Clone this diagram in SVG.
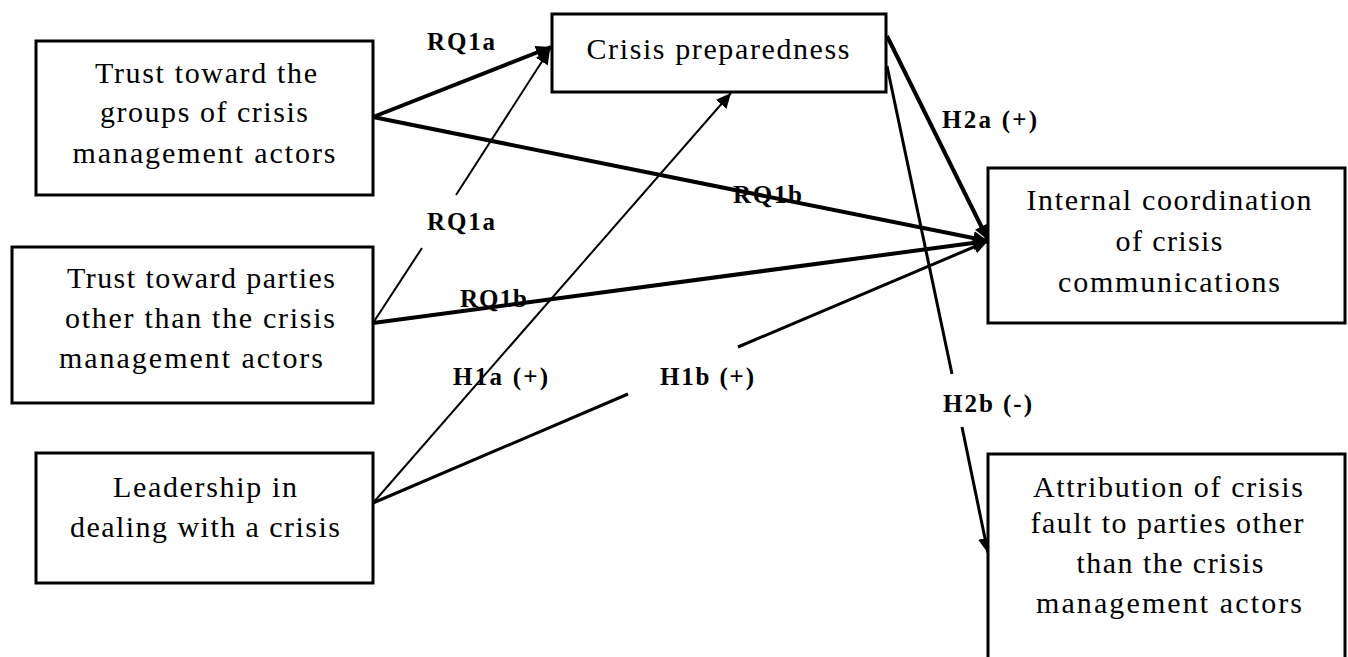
<svg xmlns="http://www.w3.org/2000/svg" width="1348" height="657" viewBox="0 0 1348 657">
<style>
.box{fill:#fff;stroke:#000;stroke-width:3}
.t{font-family:"Liberation Serif","Times New Roman",serif;font-size:30px;fill:#000;text-anchor:middle}
.l{font-family:"Liberation Serif","Times New Roman",serif;font-size:25px;font-weight:bold;fill:#000}
.c{fill:none;stroke:#000;stroke-linecap:butt}
.w4{stroke-width:4}.w3{stroke-width:3}.w2{stroke-width:2}
</style>
<defs>
<marker id="ah" markerUnits="userSpaceOnUse" markerWidth="16" markerHeight="14" refX="15" refY="7" orient="auto">
<path d="M0,0 L15,7 L0,14 Z" fill="#000"/>
</marker>
</defs>
<rect width="1348" height="657" fill="#fff"/>
<g id="connectors">
<line class="c w4" x1="373" y1="117" x2="551" y2="47" marker-end="url(#ah)"/>
<line class="c w4" x1="373" y1="117" x2="988" y2="241" marker-end="url(#ah)"/>
<line class="c w2" x1="373" y1="323" x2="422" y2="248"/>
<line class="c w2" x1="456" y1="195" x2="550" y2="49" marker-end="url(#ah)"/>
<line class="c w4" x1="373" y1="323" x2="988" y2="241" marker-end="url(#ah)"/>
<line class="c w2" x1="373" y1="503" x2="731" y2="93" marker-end="url(#ah)"/>
<line class="c w3" x1="373" y1="503" x2="628" y2="394"/>
<line class="c w3" x1="738" y1="347" x2="988" y2="241" marker-end="url(#ah)"/>
<line class="c w4" x1="887" y1="36" x2="988" y2="240" marker-end="url(#ah)"/>
<line class="c w3" x1="887" y1="66" x2="952" y2="374"/>
<line class="c w3" x1="962" y1="427" x2="988" y2="553" marker-end="url(#ah)"/>
<text class="l" x="427" y="50" textLength="68" lengthAdjust="spacing">RQ1a</text>
<text class="l" x="427" y="230" textLength="68" lengthAdjust="spacing">RQ1a</text>
<text class="l" x="733" y="203" textLength="69" lengthAdjust="spacing">RQ1b</text>
<text class="l" x="460" y="307" textLength="67" lengthAdjust="spacing">RQ1b</text>
<text class="l" x="453" y="385" textLength="95" lengthAdjust="spacing">H1a (+)</text>
<text class="l" x="660" y="385" textLength="94" lengthAdjust="spacing">H1b (+)</text>
<text class="l" x="942" y="128" textLength="95" lengthAdjust="spacing">H2a (+)</text>
<text class="l" x="943" y="412" textLength="89" lengthAdjust="spacing">H2b (-)</text>
</g>
<g id="trust-groups">
<rect class="box" x="36" y="41" width="337" height="154"/>
<text class="t" x="206" y="83" textLength="222" lengthAdjust="spacing">Trust toward the</text>
<text class="t" x="204" y="122" textLength="208" lengthAdjust="spacing">groups of crisis</text>
<text class="t" x="204" y="163" textLength="263" lengthAdjust="spacing">management actors</text>
</g>
<g id="trust-parties">
<rect class="box" x="12" y="247" width="361" height="156"/>
<text class="t" x="201" y="288" textLength="268" lengthAdjust="spacing">Trust toward parties</text>
<text class="t" x="200" y="328" textLength="270" lengthAdjust="spacing">other than the crisis</text>
<text class="t" x="191" y="368" textLength="264" lengthAdjust="spacing">management actors</text>
</g>
<g id="leadership">
<rect class="box" x="36" y="453" width="337" height="130"/>
<text class="t" x="205" y="497" textLength="184" lengthAdjust="spacing">Leadership in</text>
<text class="t" x="205" y="537" textLength="270" lengthAdjust="spacing">dealing with a crisis</text>
</g>
<g id="preparedness">
<rect class="box" x="552" y="14" width="334" height="78"/>
<text class="t" x="718" y="59" textLength="263" lengthAdjust="spacing">Crisis preparedness</text>
</g>
<g id="internal-coordination">
<rect class="box" x="988" y="168" width="357" height="155"/>
<text class="t" x="1169" y="210" textLength="285" lengthAdjust="spacing">Internal coordination</text>
<text class="t" x="1169" y="251" textLength="107" lengthAdjust="spacing">of crisis</text>
<text class="t" x="1169" y="292" textLength="222" lengthAdjust="spacing">communications</text>
</g>
<g id="attribution">
<rect class="box" x="988" y="454" width="357" height="230"/>
<text class="t" x="1168" y="497" textLength="270" lengthAdjust="spacing">Attribution of crisis</text>
<text class="t" x="1167" y="533" textLength="273" lengthAdjust="spacing">fault to parties other</text>
<text class="t" x="1170" y="573" textLength="187" lengthAdjust="spacing">than the crisis</text>
<text class="t" x="1169" y="613" textLength="266" lengthAdjust="spacing">management actors</text>
</g>
</svg>
